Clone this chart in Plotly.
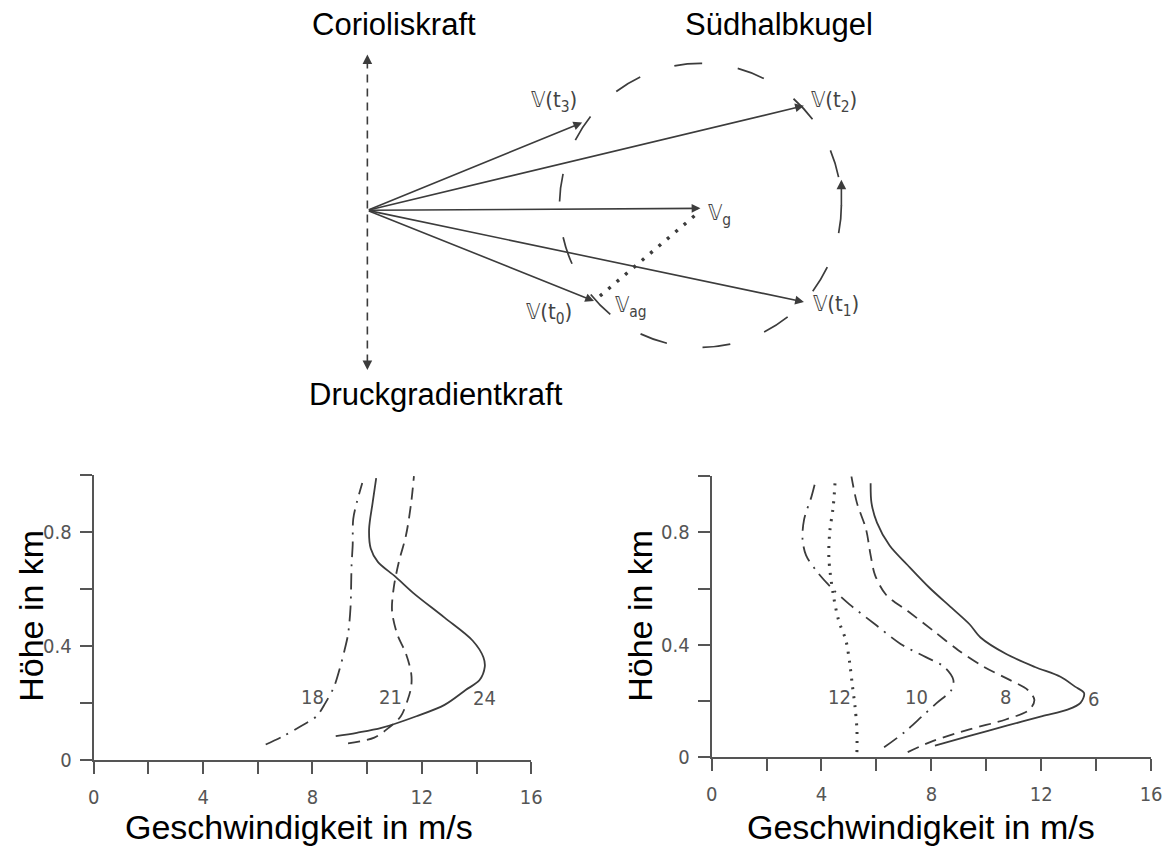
import plotly.graph_objects as go

# ---------------- Daten: Windprofile (Geschwindigkeit in m/s, Höhe in km) ----------------
# linkes Diagramm
l18_v = [6.29, 6.93, 7.57, 8.15, 8.47, 8.79, 8.98, 9.17, 9.30, 9.39, 9.43, 9.47, 9.49, 9.62, 9.82]
l18_h = [0.055, 0.084, 0.119, 0.154, 0.200, 0.258, 0.315, 0.385, 0.442, 0.535, 0.685, 0.754, 0.846, 0.904, 0.973]

l21_v = [9.30, 10.26, 10.78, 11.23, 11.48, 11.61, 11.61, 11.42, 11.10, 10.91, 10.97, 11.16, 11.42, 11.61, 11.71]
l21_h = [0.059, 0.079, 0.113, 0.154, 0.211, 0.258, 0.304, 0.373, 0.442, 0.523, 0.604, 0.696, 0.789, 0.904, 0.997]

l24_v = [8.85, 9.62, 10.52, 11.80, 12.83, 13.60, 14.11, 14.30, 14.25, 13.86, 12.83, 11.68, 11.03, 10.39, 10.13, 10.07, 10.20, 10.33]
l24_h = [0.084, 0.096, 0.113, 0.154, 0.194, 0.246, 0.281, 0.327, 0.361, 0.419, 0.500, 0.587, 0.644, 0.696, 0.743, 0.810, 0.904, 0.990]

# rechtes Diagramm
r6_v = [8.13, 9.39, 10.71, 12.04, 12.96, 13.43, 13.56, 13.23, 12.70, 11.77, 10.71, 9.79, 9.39, 8.73, 7.94, 7.14, 6.48, 6.02, 5.82, 5.79]
r6_h = [0.041, 0.076, 0.111, 0.146, 0.169, 0.193, 0.228, 0.251, 0.286, 0.321, 0.368, 0.426, 0.473, 0.532, 0.602, 0.683, 0.753, 0.835, 0.905, 0.975]

r8_v = [7.14, 8.07, 9.39, 10.71, 11.57, 11.75, 11.51, 10.85, 9.92, 8.99, 8.07, 7.14, 6.35, 5.95, 5.79, 5.62, 5.29, 5.09]
r8_h = [0.018, 0.058, 0.099, 0.134, 0.169, 0.204, 0.239, 0.275, 0.321, 0.380, 0.450, 0.520, 0.578, 0.648, 0.718, 0.812, 0.905, 0.999]

r10_v = [6.28, 7.01, 7.67, 8.20, 8.73, 8.80, 8.47, 7.80, 6.88, 5.95, 5.03, 4.37, 3.84, 3.44, 3.31, 3.37, 3.64, 3.81]
r10_h = [0.035, 0.088, 0.146, 0.193, 0.239, 0.275, 0.321, 0.356, 0.403, 0.473, 0.543, 0.602, 0.660, 0.718, 0.777, 0.847, 0.929, 0.993]

r12_v = [5.29, 5.29, 5.22, 5.13, 5.03, 4.89, 4.63, 4.43, 4.27, 4.30, 4.43, 4.50]
r12_h = [0.018, 0.099, 0.181, 0.251, 0.333, 0.415, 0.485, 0.578, 0.707, 0.800, 0.894, 0.987]

# Kurvenbeschriftungen (Uhrzeit): Text, x, y
left_labels = ["18", "21", "24"]
left_lab_x = [8.0, 10.85, 14.3]
left_lab_y = [0.222, 0.222, 0.218]
right_labels = ["12", "10", "8", "6"]
right_lab_x = [4.67, 7.47, 10.71, 13.9]
right_lab_y = [0.214, 0.214, 0.214, 0.208]

# Achsenteilung
x_ticks = [0, 2, 4, 6, 8, 10, 12, 14, 16]
x_ticktext = ["0", "", "4", "", "8", "", "12", "", "16"]
y_ticks = [0, 0.2, 0.4, 0.6, 0.8, 1.0]
y_ticktext = ["0", "", "0.4", "", "0.8", ""]

# ---------------- Daten: Vektordiagramm (Ursprung = Fußpunkt der Vektoren) ----------------
vec_u = [230, 443, 443, 218, 338]          # t0, t1, t2, t3, g
vec_v = [-92, -93, 106, 89, 2]
vec_text = ["𝕍(t<sub>0</sub>)", "𝕍(t<sub>1</sub>)", "𝕍(t<sub>2</sub>)", "𝕍(t<sub>3</sub>)", "𝕍<sub>g</sub>"]
vec_lab_u = [184, 476, 474, 189, 357]
vec_lab_v = [-105, -97, 110, 110, -4]
ag_u = [236, 335]                            # ageostrophische Komponente (gepunktet)
ag_v = [-87, -3]
ag_lab = ("𝕍<sub>ag</sub>", 268, -98)
circle_center = (338, 5)
circle_r = (143, 144)
force_axis_u = 0
force_axis_v = [158, -162]                   # Corioliskraft oben, Druckgradientkraft unten

INK = "#3c3c3c"
TICKFONT = dict(family="DejaVu Sans Condensed, Liberation Sans Narrow, Arial Narrow, sans-serif", size=20, color="#555")
HANDFONT = dict(family="DejaVu Sans Condensed, DejaVu Sans, sans-serif", size=22, color="#444")
TOPFONT = dict(family="Liberation Sans, Arial, sans-serif", size=31, color="#000")
TITLEFONT = dict(family="Liberation Sans, Arial, sans-serif", size=34, color="#000")

fig = go.Figure()

def curve(x, y, xa, ya, dash, width=1.8):
    fig.add_trace(go.Scatter(x=x, y=y, xaxis=xa, yaxis=ya, mode="lines",
                             line=dict(color=INK, width=width, dash=dash, shape="spline", smoothing=0.9),
                             hoverinfo="skip", showlegend=False))

curve(l18_v, l18_h, "x", "y", "16px,7px,2px,7px")
curve(l21_v, l21_h, "x", "y", "12px,7px")
curve(l24_v, l24_h, "x", "y", "solid")
curve(r6_v, r6_h, "x2", "y2", "solid")
curve(r8_v, r8_h, "x2", "y2", "12px,7px")
curve(r10_v, r10_h, "x2", "y2", "16px,7px,2px,7px")
curve(r12_v, r12_h, "x2", "y2", "2px,7px", width=3)

annotations = []
for t, x, y in zip(left_labels, left_lab_x, left_lab_y):
    annotations.append(dict(x=x, y=y, xref="x", yref="y", text=t, showarrow=False, font=TICKFONT))
for t, x, y in zip(right_labels, right_lab_x, right_lab_y):
    annotations.append(dict(x=x, y=y, xref="x2", yref="y2", text=t, showarrow=False, font=TICKFONT))

# Vektoren mit Pfeilspitzen
for u, v in zip(vec_u, vec_v):
    annotations.append(dict(x=u, y=v, ax=0, ay=0, xref="x3", yref="y3", axref="x3", ayref="y3",
                            text="", showarrow=True, arrowhead=2, arrowsize=1.1, arrowwidth=1.6,
                            arrowcolor=INK, standoff=0))
for t, u, v in zip(vec_text, vec_lab_u, vec_lab_v):
    annotations.append(dict(x=u, y=v, xref="x3", yref="y3", text=t, showarrow=False, font=HANDFONT))
annotations.append(dict(x=ag_lab[1], y=ag_lab[2], xref="x3", yref="y3", text=ag_lab[0],
                        showarrow=False, font=HANDFONT))

# Pfeilspitzen der Kraftachse und Drehsinn auf dem Kreis
arrow_style = dict(xref="x3", yref="y3", axref="x3", ayref="y3", text="", showarrow=True,
                   arrowhead=2, arrowsize=1.2, arrowwidth=1.6, arrowcolor=INK, standoff=0)
annotations.append(dict(x=force_axis_u, y=force_axis_v[0], ax=force_axis_u, ay=force_axis_v[0] - 8, **arrow_style))
annotations.append(dict(x=force_axis_u, y=force_axis_v[1], ax=force_axis_u, ay=force_axis_v[1] + 8, **arrow_style))
annotations.append(dict(x=circle_center[0] + circle_r[0], y=circle_center[1] + 26,
                        ax=circle_center[0] + circle_r[0], ay=circle_center[1] - 2, **arrow_style))

# Beschriftungen (Pixelpositionen der Textmitte)
W, H = 1170, 850
texts = [
    ("Corioliskraft", 394, 25, 0, TOPFONT),
    ("Südhalbkugel", 784, 25, 0, TOPFONT),
    ("Druckgradientkraft", 436, 400, 0, TOPFONT),
    ("Geschwindigkeit in m/s", 297, 839, 0, TITLEFONT),
    ("Geschwindigkeit in m/s", 928, 839, 0, TITLEFONT),
    ("Höhe in km", 26, 625, -90, TITLEFONT),
    ("Höhe in km", 644, 625, -90, TITLEFONT),
]
for t, px, py, ang, f in texts:
    annotations.append(dict(x=px / W, y=1 - py / H, xref="paper", yref="paper", text=t,
                            textangle=ang, xanchor="center", yanchor="middle",
                            showarrow=False, font=f))

shapes = [
    dict(type="line", xref="x3", yref="y3", x0=force_axis_u, x1=force_axis_u,
         y0=force_axis_v[0] - 6, y1=force_axis_v[1] + 6, line=dict(color=INK, width=1.6, dash="8px,6px")),
    dict(type="line", xref="x3", yref="y3", x0=ag_u[0], x1=ag_u[1], y0=ag_v[0], y1=ag_v[1],
         line=dict(color=INK, width=3.4, dash="3px,8px")),
    dict(type="circle", xref="x3", yref="y3",
         x0=circle_center[0] - circle_r[0], x1=circle_center[0] + circle_r[0],
         y0=circle_center[1] - circle_r[1], y1=circle_center[1] + circle_r[1],
         line=dict(color=INK, width=1.7, dash="28px,36px")),
]

def plot_axis(domain, ticks, ticktext, rng, standoff):
    return dict(domain=domain, range=rng, tickvals=ticks, ticktext=ticktext, showgrid=False,
                zeroline=False, showline=True, linecolor="#555", linewidth=2, ticks="outside",
                ticklen=12, tickwidth=2, tickcolor="#555", tickfont=TICKFONT, ticklabelstandoff=standoff)

fig.update_layout(
    width=W, height=H, margin=dict(l=0, r=0, t=0, b=0),
    paper_bgcolor="white", plot_bgcolor="rgba(0,0,0,0)", showlegend=False,
    xaxis=plot_axis([89 / W, 533 / W], x_ticks, x_ticktext, [0, 16], 6),
    yaxis=plot_axis([1 - 771 / H, 1 - 482 / H], y_ticks, y_ticktext, [0, 1.0], 4),
    xaxis2=plot_axis([716 / W, 1162 / W], x_ticks, x_ticktext, [0, 16], 6),
    yaxis2=plot_axis([1 - 768 / H, 1 - 483 / H], y_ticks, y_ticktext, [0, 1.0], 4),
    xaxis3=dict(domain=[0, 1], range=[-366.7, W - 366.7], visible=False),
    yaxis3=dict(domain=[0, 1], range=[213.3 - H, 213.3], visible=False),
    annotations=annotations, shapes=shapes,
)
fig.update_layout(yaxis2=dict(anchor="x2"), xaxis2=dict(anchor="y2"),
                  xaxis3=dict(anchor="y3"), yaxis3=dict(anchor="x3"))

fig.write_html("out.html")
